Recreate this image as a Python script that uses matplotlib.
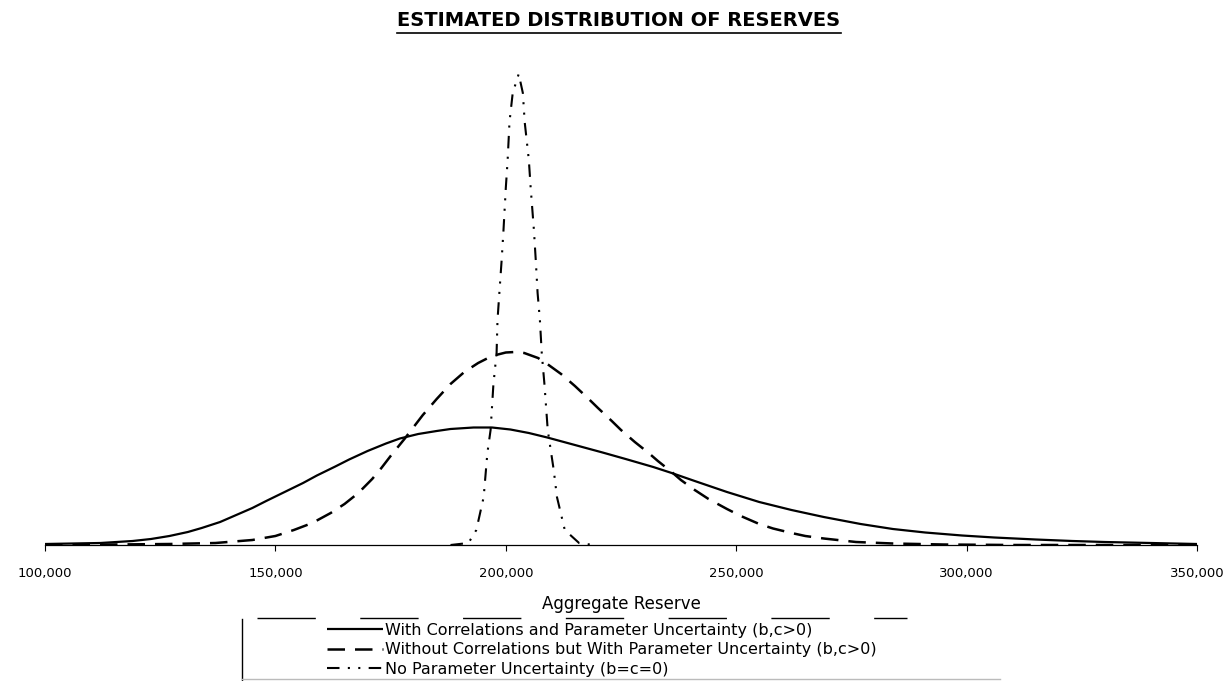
import numpy as np
import matplotlib
matplotlib.use("Agg")
import matplotlib.pyplot as plt
from matplotlib.lines import Line2D
from matplotlib.ticker import FuncFormatter

# aggregate reserve in thousands, density in arbitrary units
with_corr_x = [100, 112, 119, 123, 127, 131, 134, 138, 141, 145, 148, 152, 156, 159, 163, 166,
               170, 174, 177, 181, 185, 188, 193, 197, 201, 205, 209, 215, 221, 226, 232, 236,
               241, 248, 255, 262, 269, 277, 284, 291, 299, 306, 315, 323, 330, 340, 350]
with_corr_y = [1, 2, 4, 6, 9, 13, 17, 23, 29, 37, 44, 53, 62, 69.5, 78.5, 85.5,
               94, 101.5, 106.5, 111, 114, 116, 117.5, 117.5, 115.5, 112, 107.5, 100, 92.5, 86, 78, 72,
               64, 53, 43, 35, 28, 21, 16, 12.5, 9.5, 7.5, 5.5, 4, 3, 2, 1]

no_corr_x = [100, 115, 127, 137, 145, 150, 154, 158, 162, 165, 168, 171, 173, 175, 178, 180,
             182, 185, 188, 191, 194, 197, 200, 202, 204, 207, 209, 212, 215, 218, 220, 223,
             225, 228, 231, 233, 236, 238, 241, 244, 248, 251, 255, 258, 262, 265, 269, 276,
             284, 295, 310, 350]
no_corr_y = [0, 0.5, 1, 2, 5, 9, 15, 22, 32, 41, 52, 66, 77, 89, 106, 118,
             130, 146, 161, 173, 182, 189, 192.5, 193, 192, 187, 181, 171, 159, 146, 137, 124,
             115, 103, 92, 84, 73, 65, 55, 46, 36, 29, 21, 16.5, 12, 9, 6.5, 3,
             1.5, 0.5, 0, 0]

no_param_x = [188, 191.9, 193.6, 195.2, 196.0, 196.7, 197.3, 198.0, 198.2, 198.6, 199.1, 199.5,
              200.0, 200.4, 200.8, 201.5, 202.8, 203.7, 204.1, 205.0, 205.4, 206.1, 206.5,
              206.9, 207.4, 207.8, 208.4, 209.1, 210.4, 211.1, 212.8, 215.9, 219]
no_param_y = [0, 2, 15, 48, 92, 115, 160, 192, 225, 252, 285, 315,
              357, 385, 423, 452, 471, 452, 423, 385, 357, 315, 285,
              252, 225, 192, 160, 115, 75, 48, 15, 2, 0]

labels = ["With Correlations and Parameter Uncertainty (b,c>0)",
          "Without Correlations but With Parameter Uncertainty (b,c>0)",
          "No Parameter Uncertainty (b=c=0)"]
xticks = [100000, 150000, 200000, 250000, 300000, 350000]

W, H = 1230, 681
fig = plt.figure(figsize=(W / 100, H / 100), dpi=100)
ax = fig.add_axes([45 / W, 136 / H, (1197 - 45) / W, 500 / H])

ax.plot(np.array(with_corr_x) * 1000, with_corr_y, color="black", lw=1.6,
        solid_capstyle="butt", label=labels[0])
ax.plot(np.array(no_corr_x) * 1000, no_corr_y, color="black", lw=1.8,
        linestyle=(0, (7, 4)), label=labels[1])
ax.plot(np.array(no_param_x) * 1000, no_param_y, color="black", lw=1.5,
        linestyle=(0, (6, 4, 1, 4, 1, 4)), label=labels[2])

ax.set_xlim(100000, 350000)
ax.set_ylim(0, 500)
ax.set_xticks(xticks)
ax.xaxis.set_major_formatter(FuncFormatter(lambda v, p: "{:,.0f}".format(v)))
ax.tick_params(axis="x", direction="out", length=4, width=0.8, pad=12, labelsize=9.5)
ax.set_yticks([])
for s in ["left", "right", "top"]:
    ax.spines[s].set_visible(False)
ax.spines["bottom"].set_linewidth(0.9)

ax.set_xlabel("Aggregate Reserve", fontsize=12)
ax.xaxis.set_label_coords(0.5, -0.1)

leg = fig.legend(loc="upper left", bbox_to_anchor=(327 / W, 1 - 623 / H),
                 frameon=False, fontsize=11.5, handlelength=3.5, handletextpad=0.15,
                 labelspacing=0.27, borderpad=0, borderaxespad=0)

# legend box edges (left and top, box runs off the bottom)
fig.add_artist(Line2D([242 / W, 242 / W], [1 - 619 / H, 0], color="black", lw=1.0))
fig.add_artist(Line2D([257 / W, 907 / W], [1 - 618 / H, 1 - 618 / H], color="black",
                      lw=1.0, linestyle=(0, (42, 32))))
fig.add_artist(Line2D([242 / W, 1000 / W], [1 - 679 / H, 1 - 679 / H], color="#bbbbbb", lw=1.0))

title = fig.text(619 / W, 1 - 21 / H, "ESTIMATED DISTRIBUTION OF RESERVES",
                 ha="center", va="center", fontsize=14, fontweight="bold")
fig.canvas.draw()
bb = title.get_window_extent(fig.canvas.get_renderer())
fig.add_artist(Line2D([bb.x0 / W, bb.x1 / W], [(H - 33) / H, (H - 33) / H],
                      color="black", lw=1.2))

fig.savefig("out.png", dpi=100)
